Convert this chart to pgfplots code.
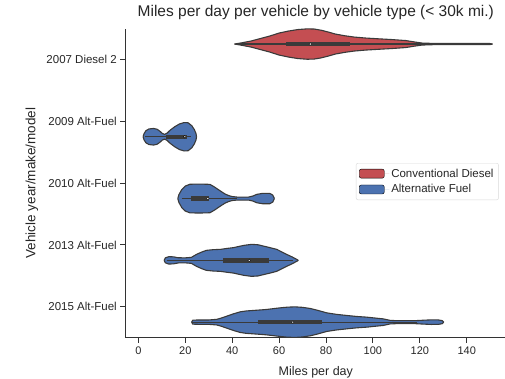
\documentclass[border=0pt]{standalone}
\usepackage{pgfplots}
\pgfplotsset{compat=1.18}
\usepgfplotslibrary{fillbetween}
\usepackage{pgfplotstable}
\usepackage{fontspec}
\setmainfont{Liberation Sans}
\definecolor{cdred}{HTML}{C44E52}
\definecolor{afblue}{HTML}{4C72B0}
\definecolor{edge}{HTML}{3A3A3A}
\definecolor{txt}{HTML}{262626}

% violin profiles: x = miles per day, w = half width (px, 61.8 px = one category)
\pgfplotstableread{
x w
41 0
44 1.2
48 3
52 5.5
56 8
60 11
64 13
68 14.5
72 15.2
75 15
78 13.8
81 12
84 10
88 8.3
92 7
97 6
102 5.3
108 4.5
114 3.5
118 2
121 1
126 0.6
150 0.5
151 0
}\diesel
\pgfplotstableread{
x w
2.0 0
2.4 3
3.2 6
4.5 7.8
6.5 8.3
8.0 7.5
9.2 5.5
10.2 3.3
11.2 2.4
12.2 3.5
13.5 6.5
15.5 10
17.5 12.8
19.5 14.2
21.2 14
22.8 11
23.9 7
24.6 3
24.8 0
}\afnine
\pgfplotstableread{
x w
16.8 0
17.3 4
18.5 9
20 12.5
22 14.3
26 14.5
30.5 14.2
32.5 11.5
35 7.5
37 4.5
38.5 3
40 2
42 1.5
47 1.5
48.8 2.5
50.5 4.2
53 5.2
56 5.2
57.3 3.5
58 0
}\aften
\pgfplotstableread{
x w
11 0
11.5 2.5
13 3.7
15 3.5
17 2.6
20 2.5
22.6 3
24.8 6
27 8.3
29 10
32 10.7
35 11
38 12
40.5 12.7
43 14
45 15
48.3 16
51 15.6
53.3 14.3
56 12.8
59 11
61.5 8
63.2 6
65.5 3.5
67.5 1
68.2 0
}\afthirteen
\pgfplotstableread{
x w
22.7 0
23.2 2
26 2.2
30 2.2
33.4 2.8
35.5 4.2
37.7 6
40.5 8.3
43.4 10.3
46 11.2
49 11.7
52 12.2
54.7 12.7
57.5 13.5
60.4 14.3
63.5 15
66.8 15.3
70 14.8
73.2 13.7
76.5 11.8
80.3 9.3
84.5 7.8
88.8 6.7
93 5.7
97.4 5
101 4.1
104.4 3.3
107.3 1.8
110 1.5
118 1.5
122 2
125 2.3
128 2.2
129.6 1.5
130.2 0
}\affifteen

\newcommand\violin[4]{%
  \addplot[draw=none, forget plot, name path=#1u] table[x=x, y expr={#3+\thisrow{w}/61.8}] {#2};
  \addplot[draw=none, forget plot, name path=#1l] table[x=x, y expr={#3-\thisrow{w}/61.8}] {#2};
  \addplot[fill=#4, draw=none, forget plot] fill between[of=#1u and #1l];
  \addplot[edge, line width=1.1pt, line join=round, forget plot] table[x=x, y expr={#3+\thisrow{w}/61.8}] {#2};
  \addplot[edge, line width=1.1pt, line join=round, forget plot] table[x=x, y expr={#3-\thisrow{w}/61.8}] {#2};
}
\newcommand\innerbox[6]{% y, whisker lo, whisker hi, q1, q3, median
  \addplot[edge, line width=1.3pt, forget plot] coordinates {(#2,#1) (#3,#1)};
  \addplot[edge, line width=4.5pt, forget plot] coordinates {(#4,#1) (#5,#1)};
  \addplot[only marks, mark=*, mark size=1.3pt, draw=none, fill=white, forget plot] coordinates {(#6,#1)};
}

\begin{document}
\begin{tikzpicture}
\begin{axis}[
  at={(0,0)}, anchor=south west,
  scale only axis, width=381.6pt, height=309pt,
  xmin=-5.7, xmax=157, ymin=-0.5, ymax=4.5,
  axis x line*=bottom, axis y line*=left,
  axis line style={black!80, line width=0.9pt},
  xtick={0,20,...,140},
  ytick={0,1,2,3,4},
  yticklabels={2015 Alt-Fuel, 2013 Alt-Fuel, 2010 Alt-Fuel, 2009 Alt-Fuel, 2007 Diesel 2},
  tick align=outside, major tick length=5pt,
  tick style={black!80, line width=0.9pt},
  /pgf/number format/assume math mode=true,
  x tick label style={font=\fontsize{11}{13}\selectfont, text=txt, anchor=north, inner sep=0pt, yshift=-4pt},
  y tick label style={font=\fontsize{11.5}{13}\selectfont, text=txt, anchor=east, inner sep=0pt, xshift=-3pt},
  xlabel={Miles per day},
  ylabel={Vehicle year/make/model},
  xlabel style={font=\fontsize{12.5}{14}\selectfont, text=txt, at={(axis description cs:0.5,0)}, anchor=base, yshift=-38pt},
  ylabel style={font=\fontsize{13.5}{15}\selectfont, text=txt, at={(axis description cs:-0.2437,0.5)}, anchor=center},
  title={Miles per day per vehicle by vehicle type (< 30k mi.)},
  title style={font=\fontsize{15.5}{17}\selectfont, text=txt, at={(axis description cs:0.5,1)}, anchor=base, yshift=6.5pt},
  legend style={at={(axis description cs:0.605,0.565)}, anchor=north west,
    draw=black!15, rounded corners=2pt, fill=white, text=txt,
    font=\fontsize{11.5}{13}\selectfont, row sep=2pt,
    inner xsep=3pt, inner ysep=3.5pt},
  legend cell align=left,
  legend image code/.code={\draw[#1] (0pt,-4.5pt) rectangle (25pt,4.5pt); \path (0pt,0pt) -- (30pt,0pt);},
]
\addlegendimage{fill=cdred, draw=none}
\addlegendentry{Conventional Diesel}
\addlegendimage{fill=afblue, draw=none}
\addlegendentry{Alternative Fuel}

\violin{d}{\diesel}{4.25}{cdred}
\violin{a}{\afnine}{2.75}{afblue}
\violin{b}{\aften}{1.75}{afblue}
\violin{c}{\afthirteen}{0.75}{afblue}
\violin{e}{\affifteen}{-0.25}{afblue}

\innerbox{4.25}{42}{150.5}{63.1}{90.2}{73.3}
\innerbox{2.75}{3}{22.5}{11.8}{20.8}{19.8}
\innerbox{1.75}{18.5}{42}{22.5}{30.3}{29.6}
\innerbox{0.75}{12}{66}{36.2}{55.5}{47.3}
\innerbox{-0.25}{23}{119}{51.2}{78.1}{65.8}
\end{axis}
\pgfresetboundingbox
\useasboundingbox (-125pt,-40.4pt) rectangle (380pt,337.6pt);
\end{tikzpicture}
\end{document}
